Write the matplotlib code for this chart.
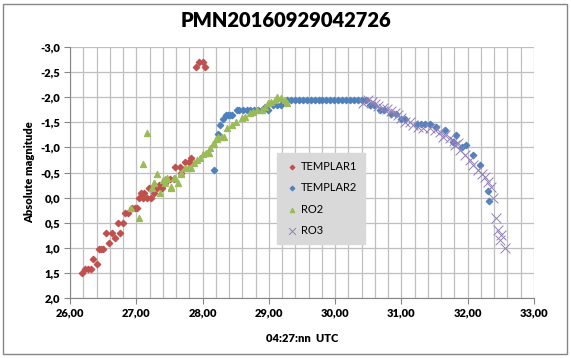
import numpy as np
import matplotlib.pyplot as plt
from matplotlib.patches import Rectangle
from matplotlib.ticker import MultipleLocator, FuncFormatter

plt.rcParams['font.family'] = ['Lato', 'DejaVu Sans']

# TEMPLAR1
t1_x = [26.18, 26.23, 26.27, 26.31, 26.35, 26.40, 26.43, 26.47, 26.50, 26.55, 26.59, 26.64,
        26.68, 26.72, 26.76, 26.80, 26.83, 26.87, 26.94, 26.98, 27.01, 27.04, 27.07, 27.10,
        27.12, 27.16, 27.19, 27.22, 27.27, 27.31, 27.35, 27.39, 27.43, 27.51, 27.57, 27.59,
        27.66, 27.67, 27.73, 27.79, 27.82, 27.90, 27.95, 28.00, 28.04]
t1_y = [1.51, 1.42, 1.42, 1.42, 1.22, 1.32, 1.02, 1.02, 1.02, 0.70, 0.91, 0.70,
        0.81, 0.50, 0.70, 0.50, 0.30, 0.30, 0.21, 0.21, 0.21, 0.00, -0.10, 0.00,
        -0.10, 0.00, -0.20, 0.00, -0.09, -0.19, -0.25, -0.19, -0.30, -0.38, -0.38, -0.60,
        -0.60, -0.50, -0.70, -0.70, -0.78, -2.61, -2.70, -2.70, -2.61]

# TEMPLAR2
t2_x = [28.18, 28.23, 28.27, 28.31, 28.35, 28.38, 28.41, 28.45, 28.52, 28.55, 28.61, 28.67,
        28.72, 28.77, 28.83, 28.89, 28.94, 28.99, 29.06, 29.12, 29.18, 29.27, 29.33, 29.39,
        29.45, 29.51, 29.57, 29.63, 29.69, 29.75, 29.81, 29.87, 29.93, 29.99, 30.05, 30.11,
        30.17, 30.23, 30.29, 30.35, 30.41, 30.47, 30.52, 30.58, 30.68, 30.74, 30.85, 30.92,
        31.00, 31.06, 31.23, 31.30, 31.36, 31.43, 31.53, 31.66, 31.78, 31.82, 31.92, 31.98,
        32.08, 32.18, 32.31, 32.33]
t2_y = [-0.55, -1.27, -1.45, -1.56, -1.65, -1.65, -1.65, -1.65, -1.75, -1.75, -1.75, -1.75,
        -1.75, -1.75, -1.75, -1.75, -1.80, -1.75, -1.85, -1.85, -1.85, -1.95, -1.95, -1.95,
        -1.95, -1.95, -1.95, -1.95, -1.95, -1.95, -1.95, -1.95, -1.95, -1.95, -1.95, -1.95,
        -1.95, -1.95, -1.95, -1.95, -1.95, -1.95, -1.85, -1.85, -1.75, -1.75, -1.66, -1.66,
        -1.56, -1.56, -1.46, -1.46, -1.46, -1.46, -1.41, -1.35, -1.11, -1.25, -1.00, -1.05,
        -0.85, -0.65, -0.14, 0.06]

# RO2
r2_x = [26.92, 27.04, 27.10, 27.16, 27.24, 27.26, 27.27, 27.31, 27.36, 27.41, 27.43, 27.44,
        27.46, 27.52, 27.53, 27.57, 27.58, 27.63, 27.67, 27.68, 27.73, 27.78, 27.83, 27.87,
        27.92, 27.96, 28.00, 28.05, 28.09, 28.12, 28.16, 28.17, 28.20, 28.22, 28.24, 28.29,
        28.32, 28.37, 28.44, 28.51, 28.59, 28.64, 28.71, 28.76, 28.82, 28.89, 28.94, 28.99,
        29.04, 29.09, 29.13, 29.18, 29.24, 29.28]
r2_y = [0.21, 0.41, -0.67, -1.29, -0.19, -0.30, -0.30, -0.48, -0.10, -0.35, -0.38, -0.30,
        -0.40, -0.21, -0.19, -0.40, -0.40, -0.29, -0.48, -0.50, -0.58, -0.58, -0.58, -0.68,
        -0.74, -0.78, -0.87, -0.88, -0.88, -0.98, -1.07, -1.06, -1.16, -1.17, -1.20, -1.20,
        -1.20, -1.39, -1.45, -1.51, -1.58, -1.61, -1.68, -1.71, -1.75, -1.75, -1.81, -1.88,
        -1.91, -1.94, -2.01, -1.98, -1.94, -1.88]

# RO3
r3_x = [30.42, 30.50, 30.55, 30.60, 30.65, 30.73, 30.78, 30.85, 30.90, 30.95, 31.00, 31.05,
        31.13, 31.18, 31.25, 31.33, 31.43, 31.51, 31.58, 31.63, 31.66, 31.73, 31.79, 31.81,
        31.86, 31.88, 31.96, 32.03, 32.08, 32.16, 32.21, 32.26, 32.31, 32.36, 32.38, 32.43,
        32.46, 32.49, 32.51, 32.56]
r3_y = [-1.88, -1.94, -1.91, -1.86, -1.83, -1.79, -1.77, -1.73, -1.68, -1.65, -1.58, -1.51,
        -1.50, -1.45, -1.41, -1.38, -1.38, -1.35, -1.31, -1.21, -1.25, -1.18, -1.13, -1.05,
        -1.08, -0.95, -0.85, -0.75, -0.65, -0.55, -0.48, -0.42, -0.32, -0.22, 0.01, 0.41,
        0.65, 0.85, 0.75, 1.01]

fig = plt.figure(figsize=(5.71, 3.58), dpi=100)
ax = fig.add_axes([0.1226, 0.1676, 0.8124, 0.7011])

ax.scatter(t1_x, t1_y, marker='D', s=10, color='#C0504D', label='TEMPLAR1', zorder=3)
ax.scatter(t2_x, t2_y, marker='D', s=10, color='#4F81BD', label='TEMPLAR2', zorder=3)
ax.scatter(r2_x, r2_y, marker='^', s=18, color='#9BBB59', label='RO2', zorder=3)
ax.scatter(r3_x, r3_y, marker='x', s=50, color='#9080B8', linewidths=0.7, label='RO3', zorder=4)

ax.set_xlim(26, 33)
ax.set_ylim(2.0, -3.0)
ax.xaxis.set_major_locator(MultipleLocator(1))
ax.xaxis.set_minor_locator(MultipleLocator(0.2))
ax.yaxis.set_major_locator(MultipleLocator(0.5))
ax.xaxis.set_major_formatter(FuncFormatter(lambda v, p: f'{v:.2f}'.replace('.', ',')))
ax.yaxis.set_major_formatter(FuncFormatter(lambda v, p: f'{v:.1f}'.replace('.', ',')))
ax.grid(which='both', axis='x', color='#bfbfbf', lw=0.9)
ax.grid(which='major', axis='y', color='#bfbfbf', lw=0.9)
ax.set_axisbelow(True)

for s in ['top', 'right']:
    ax.spines[s].set_visible(False)
for s in ['left', 'bottom']:
    ax.spines[s].set_color('#868686')
ax.tick_params(which='major', length=4, color='#868686', labelsize=8, pad=3)
ax.tick_params(which='minor', length=0)
for lab in ax.get_xticklabels() + ax.get_yticklabels():
    lab.set_fontweight('heavy')

ax.set_xlabel('04:27:nn  UTC', fontsize=8, fontweight='heavy', labelpad=10)
ax.set_ylabel('Absolute magnitude', fontsize=8, fontweight='heavy', labelpad=4)
fig.suptitle('PMN20160929042726', fontsize=14.5, fontweight='heavy', y=0.97)

leg = ax.legend(loc='upper left', bbox_to_anchor=(0.435, 0.6), fontsize=8,
                frameon=True, fancybox=False, framealpha=1, facecolor='#d9d9d9',
                edgecolor='#d9d9d9', handletextpad=0.2, labelspacing=0.95,
                borderpad=0.7, handlelength=1.2, markerscale=0.7)

fig.patches.append(Rectangle((3 / 571, 4 / 358), 564 / 571, 350 / 358, transform=fig.transFigure,
                             fill=False, edgecolor='#868686', lw=1))

fig.savefig('out.png', dpi=100)
